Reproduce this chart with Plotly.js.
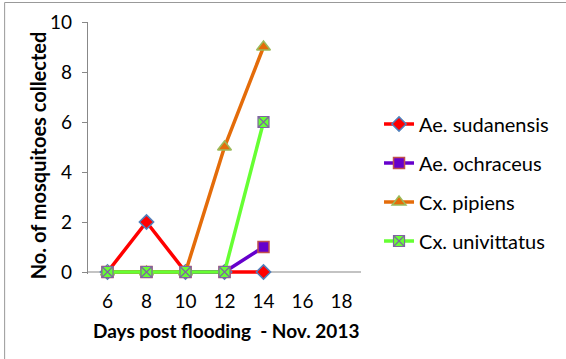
<!DOCTYPE html>
<html><head><meta charset="utf-8">
<script src="https://cdn.plot.ly/plotly-3.0.1.min.js"></script>
<style>html,body{margin:0;padding:0;background:#fff}#chart{width:566px;height:359px}</style>
</head><body><div id="chart"></div>
<script>
const categories = ['6','8','10','12','14','16','18'];
const days = ['6','8','10','12','14'];
const aeSudanensis = [0,2,0,0,0];
const aeOchraceus = [0,0,0,0,1];
const cxPipiens = [0,0,0,5,9];
const cxUnivittatus = [0,0,0,0,6];
const seriesNames = ['Ae. sudanensis','Ae. ochraceus','Cx. pipiens','Cx. univittatus'];
const yTicks = [0,2,4,6,8,10];

const font = 'Lato, "Open Sans", "Liberation Sans", sans-serif';
const traces = [
  {y: aeSudanensis, name: seriesNames[0], legendgroup:'a', line:{color:'#ff0000',width:3.5},
   marker:{symbol:'diamond',size:11,color:'#ff0000',line:{color:'#4f81bd',width:1.5}}},
  {y: aeOchraceus, name: seriesNames[1], legendgroup:'b', line:{color:'#6600cc',width:3.5},
   marker:{symbol:'square',size:11,color:'#6600cc',line:{color:'#c0504d',width:1.5}}},
  {y: cxPipiens, name: seriesNames[2], legendgroup:'c', line:{color:'#e46c0a',width:3.5},
   marker:{symbol:'triangle-up',size:12,color:'#e46c0a',line:{color:'#9bbb59',width:1.5}}},
  {y: cxUnivittatus, name: seriesNames[3], legendgroup:'d', line:{color:'#66ff33',width:3.5},
   marker:{symbol:'square-x',size:11,color:'#66ff33',line:{color:'#8064a2',width:1.2}}}
].map(t => Object.assign({x: days, type:'scatter', mode:'lines+markers', cliponaxis:false}, t));

const layout = {
  width:566, height:359,
  margin:{l:88, r:198, t:22, b:85, pad:0},
  paper_bgcolor:'#fff', plot_bgcolor:'#fff',
  font:{family:font, color:'#000'},
  showlegend:true,
  legend:{x:1.066, y:(272-180.5)/252, xanchor:'left', yanchor:'middle', font:{size:20, family:font},
    tracegroupgap:10, itemwidth:30, bgcolor:'rgba(0,0,0,0)'},
  xaxis:{type:'category', categoryorder:'array', categoryarray:categories,
    range:[-0.5,6.5], showgrid:false, zeroline:false, showline:false,
    ticks:'outside', ticklen:10, tickcolor:'rgba(0,0,0,0)',
    tickfont:{size:19, family:font}},
  yaxis:{range:[-0.08,10], tickvals:yTicks, showgrid:false, zeroline:false,
    showline:true, linecolor:'#888', linewidth:1.2,
    ticks:'outside', ticklen:5, tickcolor:'#888', ticklabelstandoff:6,
    tickfont:{size:19, family:font}},
  shapes:[
    {type:'line', xref:'paper', yref:'y', x0:0, x1:1, y0:0, y1:0, line:{color:'#888', width:1.2}, layer:'below'},
    {type:'rect', xref:'paper', yref:'paper', x0:(2.5-88)/280, x1:(600-88)/280, y0:-1, y1:(274-2.5)/252,
     line:{color:'#999', width:1}, fillcolor:'rgba(0,0,0,0)'}
  ],
  annotations:[
    {text:'<b>Days post flooding  - Nov. 2013</b>', xref:'paper', yref:'paper',
     x:(230-88)/280, y:(274-330)/252, xanchor:'center', yanchor:'middle', showarrow:false,
     font:{size:19, family:font}},
    {text:'<b>No. of mosquitoes collected</b>', xref:'paper', yref:'paper', textangle:-90,
     x:(37-88)/280, y:(274-155)/252, xanchor:'center', yanchor:'middle', showarrow:false,
     font:{size:20, family:font}}
  ]
};
Plotly.newPlot('chart', traces, layout, {displayModeBar:false, staticPlot:true});
</script></body></html>
